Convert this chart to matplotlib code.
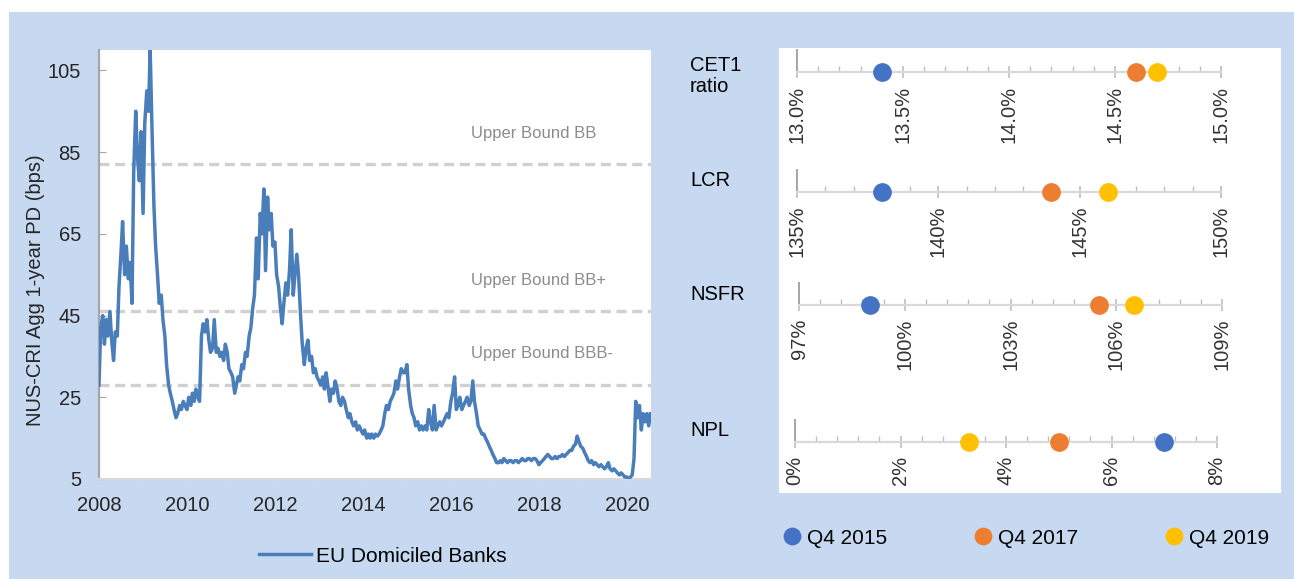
#!/usr/bin/env python3

import numpy as np
import pandas as pd
import matplotlib
matplotlib.use("Agg")
import matplotlib.pyplot as plt
import matplotlib.dates as mdates
from matplotlib.patches import Rectangle
from matplotlib.ticker import AutoMinorLocator, StrMethodFormatter

plt.rcParams["font.family"] = ["Liberation Sans", "DejaVu Sans"]

# NUS-CRI aggregate 1-year PD (bps), EU domiciled banks, semi-monthly reads
pd_2008 = [28, 42, 45, 38, 44, 40, 46, 39, 34, 41, 40, 52, 60, 68, 55, 62, 54, 58, 48, 80, 95, 84, 78, 90]
pd_2009 = [70, 92, 100, 95, 110, 92, 72, 62, 55, 48, 50, 44, 40, 33, 28, 26, 24, 22, 20, 21, 23, 22, 24, 23]
pd_2010 = [22, 25, 23, 26, 24, 27, 25, 24, 40, 43, 41, 44, 39, 36, 37, 44, 36, 37, 35, 36, 34, 38, 36, 32]
pd_2011 = [31, 30, 26, 28, 30, 29, 33, 32, 36, 35, 40, 42, 47, 50, 64, 54, 70, 65, 76, 56, 74, 66, 70, 62]
pd_2012 = [63, 55, 52, 47, 43, 48, 53, 50, 56, 66, 50, 55, 60, 55, 45, 38, 33, 37, 39, 34, 35, 31, 32, 30]
pd_2013 = [29, 28, 30, 27, 31, 28, 24, 27, 26, 29, 27, 24, 23, 25, 24, 22, 20, 21, 19, 18, 19, 17, 18, 17]
pd_2014 = [16, 17, 15, 16, 15, 16, 15, 16, 15.5, 16, 17, 18, 21, 23, 22, 24, 25, 26, 29, 27, 30, 32, 31, 31]
pd_2015 = [33, 27, 23, 21, 20, 18, 19, 17, 18, 17, 18, 17, 22, 19, 17, 23, 17, 18, 19, 18, 19, 20, 21, 20]
pd_2016 = [24, 26, 30, 22, 23, 25, 22, 23, 24, 25, 23, 24, 29, 24, 21, 18, 17, 16, 16, 15, 14, 13, 12, 11]
pd_2017 = [10, 9, 9, 9.5, 9, 10, 9.5, 9, 9.5, 9.5, 9, 9.5, 9.5, 9, 9.5, 10, 9.5, 9.5, 10, 10, 9.5, 10, 10, 9.5]
pd_2018 = [8.5, 9, 9.5, 10, 10.5, 11, 10.5, 10, 10, 10.5, 10, 10.5, 10.5, 11, 10.5, 11, 11.5, 12, 12, 13, 13.5, 15.5, 14, 13]
pd_2019 = [12.5, 11.5, 10.5, 9.5, 9, 9.5, 8.5, 9, 8.5, 8, 8.5, 8, 7.5, 8, 9, 7.5, 7, 7.5, 7, 6.5, 6, 6.5, 6, 5.5]
pd_2020 = [5.5, 5, 5.5, 6, 10, 24, 20, 23, 17, 21, 19, 21, 18, 21]

bound_levels = [82, 46, 28]
bound_labels = ["Upper Bound BB", "Upper Bound BB+", "Upper Bound BBB-"]

# balance sheet ratios
metrics = ["CET1\nratio", "LCR", "NSFR", "NPL"]
q4_2015 = [13.40, 138.0, 99.0, 7.0]
q4_2017 = [14.60, 144.0, 105.5, 5.0]
q4_2019 = [14.70, 146.0, 106.5, 3.3]
quarters = ["Q4 2015", "Q4 2017", "Q4 2019"]
axis_ticks = [
    [13.0, 13.5, 14.0, 14.5, 15.0],
    [135, 140, 145, 150],
    [97, 100, 103, 106, 109],
    [0, 2, 4, 6, 8],
]
axis_fmt = ["{x:.1f}%", "{x:.0f}%", "{x:.0f}%", "{x:.0f}%"]

BG = "#C6D9F0"
LINE = "#4A7EBB"
DOTS = ["#4472C4", "#ED7D31", "#FFC000"]
TXT = "#262626"
W, H = 1294, 579


def fx(px):
    return px / W


def fy(py):
    return 1 - py / H


fig = plt.figure(figsize=(W / 100, H / 100), dpi=100, facecolor="white")
fig.patches.append(Rectangle((fx(9), 0), fx(W - 9), fy(12), transform=fig.transFigure,
                             facecolor=BG, edgecolor="none", zorder=-10))
fig.patches.append(Rectangle((fx(779), fy(493)), fx(1281 - 779), (493 - 48) / H,
                             transform=fig.transFigure, facecolor="white", edgecolor="none", zorder=-5))

# ---- left panel: time series
values = (pd_2008 + pd_2009 + pd_2010 + pd_2011 + pd_2012 + pd_2013 + pd_2014
          + pd_2015 + pd_2016 + pd_2017 + pd_2018 + pd_2019 + pd_2020)
dates = pd.date_range("2008-01-01", periods=len(values), freq="SMS")

ax = fig.add_axes([fx(99), fy(479), fx(552), 429 / H])
ax.set_facecolor("white")
for lvl, lab in zip(bound_levels, bound_labels):
    ax.axhline(lvl, color="#D0D0D0", linewidth=2.4, linestyle=(0, (3, 1.7)), zorder=1)
    ax.text(pd.Timestamp("2016-06-13"), lvl + 7.6, lab, fontsize=12, color="#8C8C8C",
            va="center", ha="left")
series_line, = ax.plot(dates, values, color=LINE, linewidth=2.5,
                       label="EU Domiciled Banks", zorder=3)

ax.set_xlim(pd.Timestamp("2008-01-01"), pd.Timestamp("2020-07-20"))
ax.set_ylim(5, 110)
ax.set_yticks([5, 25, 45, 65, 85, 105])
ax.xaxis.set_major_locator(mdates.YearLocator(2))
ax.xaxis.set_minor_locator(mdates.YearLocator(1))
ax.xaxis.set_major_formatter(mdates.DateFormatter("%Y"))
for s in ["top", "right"]:
    ax.spines[s].set_visible(False)
ax.spines["left"].set_color("#A6A6A6")
ax.spines["left"].set_linewidth(1.6)
ax.spines["bottom"].set_color("#D9D9D9")
ax.spines["bottom"].set_linewidth(1.6)
ax.tick_params(axis="y", direction="in", length=5, color="#A6A6A6", labelsize=14.5,
               labelcolor=TXT, pad=13)
ax.tick_params(axis="x", which="both", direction="out", length=4, color="#D9D9D9",
               labelsize=14.5, labelcolor=TXT, pad=8)
ax.set_ylabel("NUS-CRI Agg 1-year PD (bps)", fontsize=14.5, color=TXT)
ax.yaxis.set_label_coords(-0.097, 0.44)
fig.legend(handles=[series_line], loc="center", bbox_to_anchor=(fx(383), fy(556)),
           frameon=False, fontsize=15, handlelength=2.5, handletextpad=0.25)

# ---- right panel: dot rows
row_y = [72, 192, 305, 442]
row_x0 = [797, 797, 799, 795]
row_x1 = [1221, 1221, 1222, 1217]
label_y = [76, 180, 295, 430]
series = [q4_2015, q4_2017, q4_2019]

dot_axes = []
for i, name in enumerate(metrics):
    a = fig.add_axes([fx(row_x0[i]), fy(row_y[i]), fx(row_x1[i] - row_x0[i]), 22 / H])
    a.patch.set_alpha(0)
    a.set_xticks(axis_ticks[i])
    a.set_xlim(axis_ticks[i][0], axis_ticks[i][-1])
    a.set_ylim(0, 1)
    a.set_yticks([])
    a.xaxis.set_minor_locator(AutoMinorLocator(5))
    a.xaxis.set_major_formatter(StrMethodFormatter(axis_fmt[i]))
    for s in ["top", "right"]:
        a.spines[s].set_visible(False)
    a.spines["bottom"].set_color("#D9D9D9")
    a.spines["bottom"].set_linewidth(1.6)
    a.spines["left"].set_color("#A6A6A6")
    a.spines["left"].set_linewidth(1.4)
    a.tick_params(axis="x", which="major", direction="inout", length=8, width=1.2,
                  color="#BFBFBF", labelsize=14.5, labelcolor="#333333",
                  labelrotation=90, pad=6)
    a.tick_params(axis="x", which="minor", direction="in", length=4, width=1.0,
                  color="#BFBFBF")
    for k, q in enumerate(quarters):
        a.plot([series[k][i]], [0], "o", color=DOTS[k], markersize=13.5,
               markeredgewidth=0, clip_on=False, zorder=5, label=q)
    fig.text(fx(690), fy(label_y[i]), name, fontsize=14.5, color="black",
             ha="left", va="center", linespacing=1.1)
    dot_axes.append(a)

fig.legend(handles=dot_axes[0].get_lines(), loc="center", ncol=3,
           bbox_to_anchor=(fx(1025), fy(538)), frameon=False, fontsize=15,
           handlelength=1.0, handletextpad=0.22, columnspacing=4.1, markerscale=0.95)

fig.savefig("out.png", dpi=100, facecolor=fig.get_facecolor())
